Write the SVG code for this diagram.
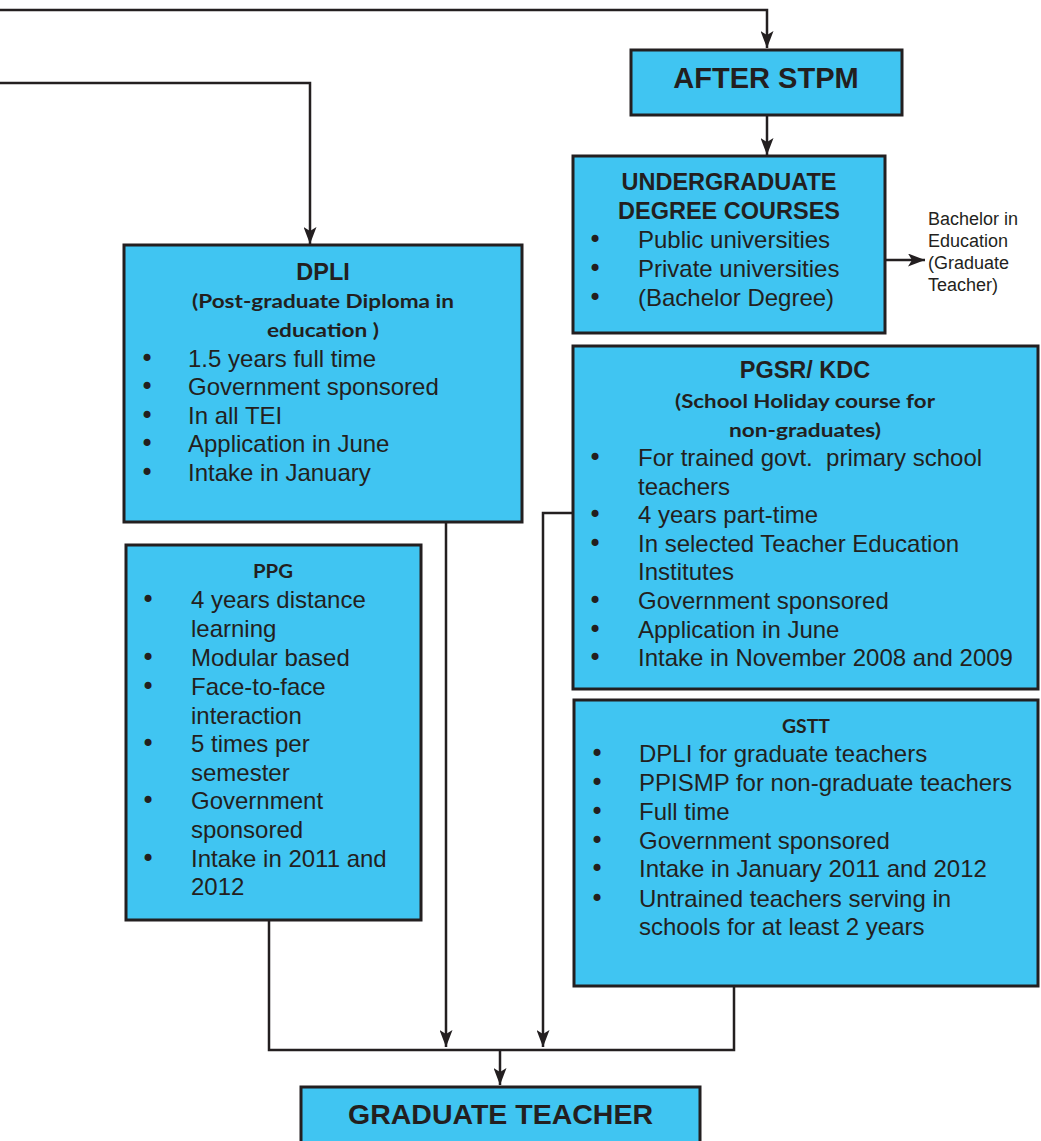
<svg xmlns="http://www.w3.org/2000/svg" width="1041" height="1141" viewBox="0 0 1041 1141">
<defs>
<marker id="arr" markerUnits="userSpaceOnUse" markerWidth="17" markerHeight="13" refX="17" refY="6.5" orient="auto">
<path d="M0,0 L17,6.5 L0,13 L4,6.5 z" fill="#231f20"/>
</marker>
<style>
.box{fill:#40c5f2;stroke:#231f20;stroke-width:3}
.ln{fill:none;stroke:#231f20;stroke-width:2.5}
.t{font-family:"Liberation Sans",Arial,sans-serif;font-size:24px;fill:#231f20}
.bu{font-family:"DejaVu Sans",sans-serif;font-size:24px}
.h{font-family:"Liberation Sans",Arial,sans-serif;font-size:23.5px;font-weight:bold;fill:#231f20;text-anchor:middle}
.s{font-family:Lato,"Open Sans",sans-serif;font-size:19.5px;font-weight:bold;fill:#231f20;text-anchor:middle}
.side{font-family:"Liberation Sans",Arial,sans-serif;font-size:18px;fill:#231f20}
</style>
</defs>
<rect width="1041" height="1141" fill="#ffffff"/>
<g id="connectors">
<path class="ln" d="M0,10 H767 V48" marker-end="url(#arr)"/>
<path class="ln" d="M0,83 H310 V244" marker-end="url(#arr)"/>
<path class="ln" d="M767,115 V155" marker-end="url(#arr)"/>
<path class="ln" d="M885,260 H925" marker-end="url(#arr)"/>
<path class="ln" d="M446,523 V1047" marker-end="url(#arr)"/>
<path class="ln" d="M573,513 H543 V1047" marker-end="url(#arr)"/>
<path class="ln" d="M269,920 V1050 H734 V986"/>
<path class="ln" d="M500,1050 V1085" marker-end="url(#arr)"/>
</g>
<g id="after-stpm">
<rect class="box" x="631" y="50" width="271" height="65"/>
<text class="h" x="766" y="88" style="font-size:29px">AFTER STPM</text>
</g>
<g id="undergraduate">
<rect class="box" x="573" y="156" width="312" height="177"/>
<text class="h" x="729" y="190">UNDERGRADUATE</text>
<text class="h" x="729" y="219">DEGREE COURSES</text>
<text class="t" y="248"><tspan class="bu" x="588">•</tspan><tspan x="638">Public universities</tspan></text>
<text class="t" y="277"><tspan class="bu" x="588">•</tspan><tspan x="638">Private universities</tspan></text>
<text class="t" y="306"><tspan class="bu" x="588">•</tspan><tspan x="638">(Bachelor Degree)</tspan></text>
</g>
<g id="bachelor-label">
<text class="side" x="928" y="225">Bachelor in</text>
<text class="side" x="928" y="247">Education</text>
<text class="side" x="928" y="269">(Graduate</text>
<text class="side" x="928" y="291">Teacher)</text>
</g>
<g id="dpli">
<rect class="box" x="124" y="245" width="398" height="277"/>
<text class="h" x="323" y="280">DPLI</text>
<text class="s" x="323" y="308" textLength="262" lengthAdjust="spacingAndGlyphs">(Post-graduate Diploma in</text>
<text class="s" x="323" y="337" textLength="112" lengthAdjust="spacingAndGlyphs">education )</text>
<text class="t" y="366.5"><tspan class="bu" x="140">•</tspan><tspan x="188">1.5 years full time</tspan></text>
<text class="t" y="395"><tspan class="bu" x="140">•</tspan><tspan x="188">Government sponsored</tspan></text>
<text class="t" y="423.5"><tspan class="bu" x="140">•</tspan><tspan x="188">In all TEI</tspan></text>
<text class="t" y="452"><tspan class="bu" x="140">•</tspan><tspan x="188">Application in June</tspan></text>
<text class="t" y="480.5"><tspan class="bu" x="140">•</tspan><tspan x="188">Intake in January</tspan></text>
</g>
<g id="pgsr-kdc">
<rect class="box" x="573" y="346" width="465" height="343"/>
<text class="h" x="805" y="378">PGSR/ KDC</text>
<text class="s" x="805" y="408" textLength="260" lengthAdjust="spacingAndGlyphs">(School Holiday course for</text>
<text class="s" x="805" y="437" textLength="152" lengthAdjust="spacingAndGlyphs">non-graduates)</text>
<text class="t" y="466"><tspan class="bu" x="588">•</tspan><tspan x="638">For trained govt.&#160; primary school</tspan></text>
<text class="t" x="638" y="494.6">teachers</text>
<text class="t" y="523.2"><tspan class="bu" x="588">•</tspan><tspan x="638">4 years part-time</tspan></text>
<text class="t" y="551.8"><tspan class="bu" x="588">•</tspan><tspan x="638">In selected Teacher Education</tspan></text>
<text class="t" x="638" y="580.4">Institutes</text>
<text class="t" y="609"><tspan class="bu" x="588">•</tspan><tspan x="638">Government sponsored</tspan></text>
<text class="t" y="637.6"><tspan class="bu" x="588">•</tspan><tspan x="638">Application in June</tspan></text>
<text class="t" y="666.2"><tspan class="bu" x="588">•</tspan><tspan x="638">Intake in November 2008 and 2009</tspan></text>
</g>
<g id="ppg">
<rect class="box" x="126" y="545" width="295" height="375"/>
<text class="s" x="273" y="578" textLength="40" lengthAdjust="spacingAndGlyphs">PPG</text>
<text class="t" y="608"><tspan class="bu" x="141">•</tspan><tspan x="191">4 years distance</tspan></text>
<text class="t" x="191" y="637">learning</text>
<text class="t" y="666"><tspan class="bu" x="141">•</tspan><tspan x="191">Modular based</tspan></text>
<text class="t" y="695"><tspan class="bu" x="141">•</tspan><tspan x="191">Face-to-face</tspan></text>
<text class="t" x="191" y="723.5">interaction</text>
<text class="t" y="752"><tspan class="bu" x="141">•</tspan><tspan x="191">5 times per</tspan></text>
<text class="t" x="191" y="781">semester</text>
<text class="t" y="809"><tspan class="bu" x="141">•</tspan><tspan x="191">Government</tspan></text>
<text class="t" x="191" y="838">sponsored</text>
<text class="t" y="867"><tspan class="bu" x="141">•</tspan><tspan x="191">Intake in 2011 and</tspan></text>
<text class="t" x="191" y="895">2012</text>
</g>
<g id="gstt">
<rect class="box" x="574" y="700" width="464" height="286"/>
<text class="s" x="806" y="733" textLength="48" lengthAdjust="spacingAndGlyphs">GSTT</text>
<text class="t" y="762"><tspan class="bu" x="590">•</tspan><tspan x="639">DPLI for graduate teachers</tspan></text>
<text class="t" y="791"><tspan class="bu" x="590">•</tspan><tspan x="639">PPISMP for non-graduate teachers</tspan></text>
<text class="t" y="820"><tspan class="bu" x="590">•</tspan><tspan x="639">Full time</tspan></text>
<text class="t" y="849"><tspan class="bu" x="590">•</tspan><tspan x="639">Government sponsored</tspan></text>
<text class="t" y="877"><tspan class="bu" x="590">•</tspan><tspan x="639">Intake in January 2011 and 2012</tspan></text>
<text class="t" y="907"><tspan class="bu" x="590">•</tspan><tspan x="639">Untrained teachers serving in</tspan></text>
<text class="t" x="639" y="935">schools for at least 2 years</text>
</g>
<g id="graduate-teacher">
<rect class="box" x="301" y="1087" width="399" height="70"/>
<text class="h" x="500.5" y="1124" style="font-size:28.5px">GRADUATE TEACHER</text>
</g>
</svg>
